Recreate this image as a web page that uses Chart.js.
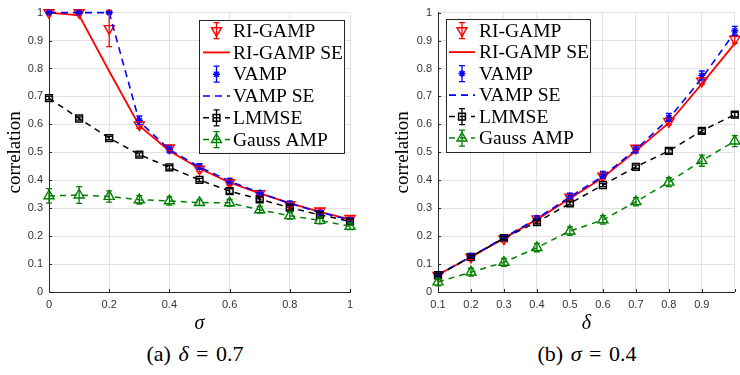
<!DOCTYPE html>
<html><head><meta charset="utf-8">
<script src="https://cdn.jsdelivr.net/npm/chart.js@4/dist/chart.umd.min.js"></script>
<style>
html,body{margin:0;padding:0;background:#fff;width:740px;height:375px;overflow:hidden;position:relative}
.box{position:absolute;top:0}
.cap{position:absolute;top:341px;font-family:'Liberation Serif','Times New Roman',serif;font-size:22px;line-height:26px;word-spacing:2px;color:#000;text-align:center;width:300px;white-space:pre}
</style></head><body>
<div class="box" style="left:0;width:362px;height:340px"><canvas id="ca" width="362" height="340"></canvas></div>
<div class="box" style="left:370px;width:372px;height:340px"><canvas id="cb" width="372" height="340"></canvas></div>
<div class="cap" style="left:45px">(a) <i>δ</i> = 0.7</div>
<div class="cap" style="left:437px">(b) <i>σ</i> = 0.4</div>
<script>
// ---------- data ----------
const seriesNames = ['RI-GAMP', 'RI-GAMP SE', 'VAMP', 'VAMP SE', 'LMMSE', 'Gauss AMP'];

// (a) delta = 0.7, x = sigma
const sigmaValues   = [0, 0.1, 0.2, 0.3, 0.4, 0.5, 0.6, 0.7, 0.8, 0.9, 1.0];
const sigmaRiGamp   = [1.0, 1.0, 0.943, 0.598, 0.516, 0.44, 0.392, 0.352, 0.313, 0.29, 0.264];
const sigmaRiGampErr= [0.004, 0.004, 0.065, 0.012, 0.01, 0.01, 0.01, 0.008, 0.008, 0.008, 0.008];
const sigmaRiGampSE = [1.0, 0.99, 0.79, 0.595, 0.505, 0.442, 0.392, 0.353, 0.318, 0.287, 0.26];
const sigmaVamp     = [1.0, 1.0, 1.0, 0.615, 0.51, 0.449, 0.397, 0.355, 0.317, 0.284, 0.258];
const sigmaVampErr  = [0.003, 0.003, 0.003, 0.015, 0.012, 0.01, 0.01, 0.008, 0.008, 0.008, 0.008];
const sigmaVampSE   = [1.0, 1.0, 1.0, 0.61, 0.51, 0.447, 0.397, 0.355, 0.317, 0.285, 0.258];
const sigmaLmmse    = [0.694, 0.621, 0.551, 0.492, 0.446, 0.401, 0.361, 0.332, 0.302, 0.276, 0.253];
const sigmaLmmseErr = [0.006, 0.006, 0.006, 0.006, 0.006, 0.006, 0.008, 0.008, 0.008, 0.008, 0.008];
const sigmaGauss    = [0.344, 0.347, 0.342, 0.33, 0.326, 0.32, 0.319, 0.294, 0.273, 0.256, 0.235];
const sigmaGaussErr = [0.026, 0.03, 0.02, 0.015, 0.015, 0.01, 0.012, 0.012, 0.012, 0.012, 0.012];

// (b) sigma = 0.4, x = delta
const deltaValues   = [0.1, 0.2, 0.3, 0.4, 0.5, 0.6, 0.7, 0.8, 0.9, 1.0];
const deltaRiGamp   = [0.06, 0.125, 0.19, 0.262, 0.34, 0.415, 0.515, 0.61, 0.755, 0.905];
const deltaRiGampErr= [0.006, 0.008, 0.008, 0.008, 0.01, 0.01, 0.01, 0.012, 0.012, 0.015];
const deltaRiGampSE = [0.062, 0.125, 0.192, 0.26, 0.335, 0.41, 0.505, 0.605, 0.745, 0.89];
const deltaVamp     = [0.06, 0.128, 0.194, 0.264, 0.344, 0.42, 0.51, 0.625, 0.775, 0.935];
const deltaVampErr  = [0.006, 0.008, 0.008, 0.008, 0.01, 0.012, 0.012, 0.014, 0.016, 0.016];
const deltaVampSE   = [0.062, 0.127, 0.194, 0.263, 0.34, 0.415, 0.51, 0.62, 0.765, 0.93];
const deltaLmmse    = [0.06, 0.126, 0.193, 0.25, 0.317, 0.383, 0.448, 0.505, 0.577, 0.635];
const deltaLmmseErr = [0.006, 0.006, 0.006, 0.006, 0.006, 0.006, 0.006, 0.008, 0.008, 0.008];
const deltaGauss    = [0.036, 0.071, 0.106, 0.159, 0.218, 0.258, 0.323, 0.393, 0.47, 0.54];
const deltaGaussErr = [0.014, 0.014, 0.014, 0.015, 0.015, 0.015, 0.015, 0.016, 0.02, 0.02];

const yTickStep = 0.1;

// ---------- helpers ----------
const RED = '#ff0000', BLUE = '#0000ff', BLACK = '#000000', GREEN = '#008000';
const AX = '#262626', GRID = '#e2e2e2';
const SERIF = "'Liberation Serif','Times New Roman',serif";
const SANS = "'Liberation Sans',Arial,Helvetica,sans-serif";

function pts(xs, ys) { return xs.map((x, i) => ({ x: x, y: ys[i] })); }

function makeDatasets(xs, riG, riGe, riSE, va, vaE, vaSE, lm, lmE, ga, gaE) {
  return [
    { label: seriesNames[0], data: pts(xs, riG), errors: riGe, showLine: false,
      borderColor: RED, backgroundColor: 'rgba(0,0,0,0)', pointStyle: 'triangle', rotation: 180,
      pointRadius: 5.8, pointBorderWidth: 1.4, order: 5 },
    { label: seriesNames[1], data: pts(xs, riSE), showLine: true, borderColor: RED,
      backgroundColor: RED, borderWidth: 1.8, pointRadius: 0, order: 4 },
    { label: seriesNames[2], data: pts(xs, va), errors: vaE, showLine: false,
      borderColor: BLUE, backgroundColor: 'rgba(0,0,0,0)', pointStyle: 'star',
      pointRadius: 3.5, pointBorderWidth: 1.5, order: 3 },
    { label: seriesNames[3], data: pts(xs, vaSE), showLine: true, borderColor: BLUE,
      backgroundColor: BLUE, borderWidth: 1.6, borderDash: [7, 5], pointRadius: 0, order: 2 },
    { label: seriesNames[4], data: pts(xs, lm), errors: lmE, showLine: true, borderColor: BLACK,
      backgroundColor: 'rgba(0,0,0,0)', borderWidth: 1.5, borderDash: [6, 5], pointStyle: 'rect',
      pointRadius: 4.8, pointBorderWidth: 1.5, order: 1 },
    { label: seriesNames[5], data: pts(xs, ga), errors: gaE, showLine: true, borderColor: GREEN,
      backgroundColor: 'rgba(0,0,0,0)', borderWidth: 1.5, borderDash: [6, 5], pointStyle: 'triangle',
      pointRadius: 5.8, pointBorderWidth: 1.4, order: 0 }
  ];
}

const errorBars = {
  id: 'errorBars',
  afterDatasetsDraw(chart) {
    const ctx = chart.ctx, xs = chart.scales.x, ys = chart.scales.y;
    chart.data.datasets.forEach(ds => {
      if (!ds.errors) return;
      ctx.save();
      ctx.strokeStyle = ds.borderColor; ctx.lineWidth = 1.3; ctx.setLineDash([]);
      ds.data.forEach((p, i) => {
        const e = ds.errors[i];
        const px = xs.getPixelForValue(p.x);
        const t = ys.getPixelForValue(p.y + e), b = ys.getPixelForValue(p.y - e);
        ctx.beginPath();
        ctx.moveTo(px, t); ctx.lineTo(px, b);
        ctx.moveTo(px - 3, t); ctx.lineTo(px + 3, t);
        ctx.moveTo(px - 3, b); ctx.lineTo(px + 3, b);
        ctx.stroke();
      });
      ctx.restore();
    });
  }
};

const inwardTicks = {
  id: 'inwardTicks',
  afterDraw(chart) {
    const ctx = chart.ctx, xs = chart.scales.x, ys = chart.scales.y, ca = chart.chartArea;
    ctx.save();
    ctx.strokeStyle = AX; ctx.lineWidth = 1; ctx.setLineDash([]);
    ctx.beginPath();
    xs.ticks.forEach(t => {
      const px = Math.round(xs.getPixelForValue(t.value)) + 0.5;
      ctx.moveTo(px, ca.bottom); ctx.lineTo(px, ca.bottom - 3);
    });
    ys.ticks.forEach(t => {
      const py = Math.round(ys.getPixelForValue(t.value)) + 0.5;
      ctx.moveTo(ca.left, py); ctx.lineTo(ca.left + 3, py);
    });
    ctx.stroke();
    ctx.restore();
  }
};

const boxLegend = {
  id: 'boxLegend',
  afterDraw(chart, args, o) {
    const ctx = chart.ctx, ca = chart.chartArea;
    const x0 = o.anchor === 'right' ? ca.right - o.offsetX - o.width : ca.left + o.offsetX;
    const y0 = ca.top + o.offsetY;
    ctx.save();
    ctx.fillStyle = '#fff';
    ctx.fillRect(x0, y0, o.width, o.height);
    ctx.strokeStyle = AX; ctx.lineWidth = 1; ctx.setLineDash([]);
    ctx.strokeRect(Math.round(x0) + 0.5, Math.round(y0) + 0.5, o.width, o.height);
    chart.data.datasets.forEach((ds, i) => {
      const cy = y0 + o.firstRow + i * o.rowH;
      const sx0 = x0 + o.sampleX0, sx1 = x0 + o.sampleX1, cx = (sx0 + sx1) / 2;
      ctx.strokeStyle = ds.borderColor;
      if (ds.showLine) {
        ctx.setLineDash(ds.borderDash || []);
        ctx.lineWidth = ds.borderWidth;
        ctx.beginPath(); ctx.moveTo(sx0, cy); ctx.lineTo(sx1, cy); ctx.stroke();
        ctx.setLineDash([]);
      }
      if (ds.errors) {
        ctx.lineWidth = 1.3;
        ctx.beginPath();
        ctx.moveTo(cx, cy - 8); ctx.lineTo(cx, cy + 8);
        ctx.moveTo(cx - 3, cy - 8); ctx.lineTo(cx + 3, cy - 8);
        ctx.moveTo(cx - 3, cy + 8); ctx.lineTo(cx + 3, cy + 8);
        ctx.stroke();
      }
      if (ds.pointRadius > 0) {
        ctx.fillStyle = 'rgba(0,0,0,0)';
        ctx.lineWidth = ds.pointBorderWidth;
        Chart.helpers.drawPoint(ctx, { pointStyle: ds.pointStyle, rotation: ds.rotation || 0,
          radius: ds.pointRadius, borderWidth: ds.pointBorderWidth }, cx, cy);
      }
      ctx.fillStyle = '#000';
      ctx.font = o.font;
      ctx.textBaseline = 'middle';
      ctx.textAlign = 'left';
      ctx.fillText(ds.label, x0 + o.textX, cy + 1);
    });
    ctx.restore();
  }
};

function makeChart(id, datasets, xOpts, yWidth, padding, legendOpts) {
  return new Chart(document.getElementById(id), {
    type: 'scatter',
    data: { datasets: datasets },
    plugins: [errorBars, inwardTicks, boxLegend],
    options: {
      responsive: false, animation: false, devicePixelRatio: 1,
      layout: { padding: padding },
      datasets: { scatter: { clip: false } },
      plugins: { legend: { display: false }, tooltip: { enabled: false }, boxLegend: legendOpts },
      scales: {
        x: {
          type: 'linear', min: xOpts.min, max: xOpts.max,
          afterFit: s => { s.height = 44; },
          border: { display: true, color: AX, width: 1 },
          grid: { color: GRID, lineWidth: 1, drawTicks: false },
          ticks: { stepSize: xOpts.step, padding: 6, color: '#333', font: { family: SANS, size: 11 },
            maxRotation: 0, autoSkip: false, callback: xOpts.cb },
          title: { display: true, text: xOpts.title, color: '#000', padding: 0,
            font: { family: SERIF, size: 20, style: 'italic', lineHeight: 1.2 } }
        },
        y: {
          min: 0, max: 1,
          afterFit: s => { s.width = yWidth; },
          border: { display: true, color: AX, width: 1 },
          grid: { color: GRID, lineWidth: 1, drawTicks: false },
          ticks: { stepSize: yTickStep, padding: 6, color: '#333', font: { family: SANS, size: 11 },
            callback: v => String(+v.toFixed(1)) },
          title: { display: true, text: 'correlation', color: '#000', padding: 0,
            font: { family: SERIF, size: 19, lineHeight: 1.2 } }
        }
      }
    }
  });
}

makeChart('ca',
  makeDatasets(sigmaValues, sigmaRiGamp, sigmaRiGampErr, sigmaRiGampSE, sigmaVamp, sigmaVampErr,
    sigmaVampSE, sigmaLmmse, sigmaLmmseErr, sigmaGauss, sigmaGaussErr),
  { min: 0, max: 1, step: 0.2, title: 'σ', cb: v => String(+v.toFixed(1)) },
  45, { left: 4, top: 7, right: 12, bottom: 4 },
  { anchor: 'right', offsetX: 6, offsetY: 7, width: 145, height: 133, firstRow: 11, rowH: 21.8,
    sampleX0: 4, sampleX1: 31, textX: 34, font: "19.5px " + SERIF });

makeChart('cb',
  makeDatasets(deltaValues, deltaRiGamp, deltaRiGampErr, deltaRiGampSE, deltaVamp, deltaVampErr,
    deltaVampSE, deltaLmmse, deltaLmmseErr, deltaGauss, deltaGaussErr),
  { min: 0.1, max: 1, step: 0.1, title: 'δ', cb: v => (Math.abs(v - 1) < 1e-9 ? '' : String(+v.toFixed(1))) },
  46, { left: 22, top: 7, right: 2.5, bottom: 4 },
  { anchor: 'left', offsetX: 8, offsetY: 6, width: 144, height: 133, firstRow: 12, rowH: 21.5,
    sampleX0: 3, sampleX1: 29, textX: 33, font: "19.5px " + SERIF });
</script>
</body></html>
